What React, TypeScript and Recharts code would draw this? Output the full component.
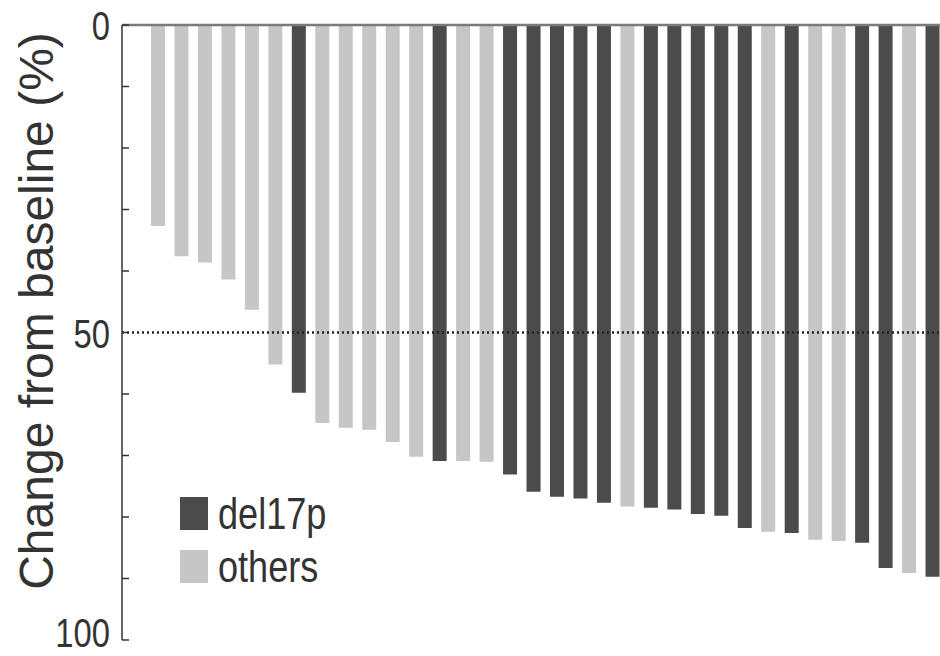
import React from 'react';
import { BarChart, Bar, XAxis, YAxis, ReferenceLine, Legend } from 'recharts';

const patients = Array.from({ length: 34 }, (_, i) => `P${i + 1}`);
const changePct = [32.7, 37.6, 38.6, 41.4, 46.3, 55.2, 59.8, 64.7, 65.5, 65.8, 67.8, 70.2, 70.9, 70.9, 71.0, 73.1, 75.9, 76.7, 77.0, 77.7, 78.3, 78.5, 78.8, 79.5, 79.8, 81.8, 82.4, 82.6, 83.7, 83.9, 84.2, 88.3, 89.1, 89.7];
const groups = ['o', 'o', 'o', 'o', 'o', 'o', 'd', 'o', 'o', 'o', 'o', 'o', 'd', 'o', 'o', 'd', 'd', 'd', 'd', 'd', 'o', 'd', 'd', 'd', 'd', 'd', 'o', 'd', 'o', 'o', 'd', 'd', 'o', 'd'];
const yTicks = [0, 10, 20, 30, 40, 50, 60, 70, 80, 90, 100];
const labeledTicks = [0, 50, 100];

const DARK = '#4b4b4b';
const LIGHT = '#c6c6c6';

const data = patients.map((id, i) => ({
  id,
  del17p: groups[i] === 'd' ? changePct[i] : 0,
  others: groups[i] === 'o' ? changePct[i] : 0,
}));

const YTick = (props: any) => {
  const { x, y, payload } = props;
  const show = labeledTicks.includes(payload.value);
  const baseline = Math.min(y + 15, 647);
  return (
    <g>
      <line x1={x + 12} x2={x + 19} y1={y} y2={y} stroke="#333" strokeWidth={1.5} />
      {show && (
        <text
          transform={`translate(${x},${baseline}) scale(0.82,1)`}
          textAnchor="end"
          fontSize={40}
          fill="#333"
          fontFamily="'Liberation Sans', Arial, sans-serif"
        >
          {payload.value}
        </text>
      )}
    </g>
  );
};

const LegendContent = (props: any) => {
  const { payload } = props;
  return (
    <div style={{ fontFamily: "'Liberation Sans', Arial, sans-serif" }}>
      {(payload || []).map((entry: any) => (
        <div key={entry.value} style={{ display: 'flex', alignItems: 'flex-start', height: 53 }}>
          <div style={{ width: 28, height: 33, background: entry.color }} />
          <div
            style={{
              marginLeft: 10,
              fontSize: 44,
              lineHeight: '33px',
              color: '#333',
              transform: 'scaleX(0.82)',
              transformOrigin: 'left',
              whiteSpace: 'nowrap',
            }}
          >
            {entry.value}
          </div>
        </div>
      ))}
    </div>
  );
};

const YLabel = () => (
  <text
    x={53}
    y={311}
    transform="rotate(-90, 53, 311)"
    textAnchor="middle"
    fontSize={48}
    fill="#333"
    fontFamily="'Liberation Sans', Arial, sans-serif"
  >
    Change from baseline (%)
  </text>
);

export default function App() {
  return (
    <div style={{ position: 'absolute', left: 0, top: 0, width: 944, height: 656, background: '#fff' }}>
      <BarChart width={944} height={656} data={data} margin={{ top: 0, right: 0, left: 0, bottom: 16 }}>
        <XAxis
          dataKey="id"
          orientation="top"
          height={25}
          tick={false}
          tickLine={false}
          axisLine={{ stroke: '#7a7a7a', strokeWidth: 2.5 }}
          padding={{ left: 24, right: 0 }}
        />
        <YAxis
          type="number"
          domain={[0, 100]}
          reversed
          ticks={yTicks}
          interval={0}
          width={122}
          tickSize={0}
          tickMargin={12}
          tickLine={false}
          axisLine={{ stroke: '#333', strokeWidth: 1.5 }}
          tick={<YTick />}
          label={<YLabel />}
        />
        <Bar dataKey="del17p" name="del17p" stackId="a" fill={DARK} barSize={14} isAnimationActive={false} legendType="square" />
        <Bar dataKey="others" name="others" stackId="a" fill={LIGHT} barSize={14} isAnimationActive={false} legendType="square" />
        <ReferenceLine y={50} stroke="#222" strokeWidth={2.5} strokeDasharray="2 3" />
        <Legend
          layout="vertical"
          align="center"
          verticalAlign="middle"
          content={<LegendContent />}
          wrapperStyle={{ left: 180, top: 497, width: 'auto', height: 'auto' }}
        />
      </BarChart>
    </div>
  );
}
